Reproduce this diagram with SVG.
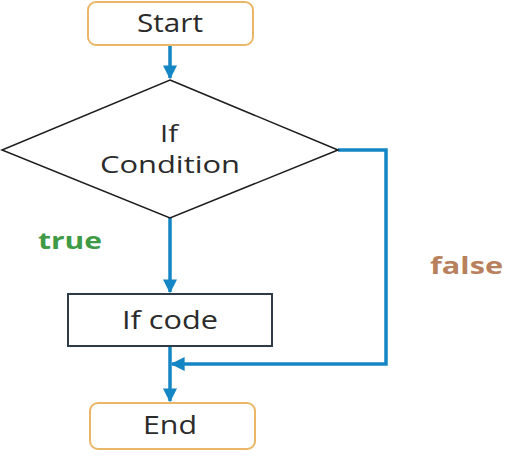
<svg xmlns="http://www.w3.org/2000/svg" width="516" height="456" viewBox="0 0 516 456">
<defs>
<marker id="ah" markerWidth="4" markerHeight="4" refX="3.6" refY="2" orient="auto" markerUnits="strokeWidth">
<path d="M0,0 L4,2 L0,4 Z" fill="#1586c4"/>
</marker>
<style>
.term{fill:#fff;stroke:#e9b767;stroke-width:2}
.proc{fill:#fff;stroke:#2f3b46;stroke-width:2}
.dec{fill:#fff;stroke:#1e1e1e;stroke-width:1.6}
.lbl{font-family:"Open Sans","Noto Sans",sans-serif;font-size:25px;fill:#2b2b2b;text-anchor:middle}
.edge{fill:none;stroke:#1586c4;stroke-width:3.5}
.el{font-family:"Open Sans","Noto Sans",sans-serif;font-size:24px;font-weight:bold}
</style>
</defs>
<rect width="516" height="456" fill="#fff"/>
<g id="connectors">
<path class="edge" d="M170,46 V78" marker-end="url(#ah)"/>
<path class="edge" d="M170,218 V292" marker-end="url(#ah)"/>
<path class="edge" d="M170,346 V401" marker-end="url(#ah)"/>
<path class="edge" d="M338,150 H386 V364 H172" marker-end="url(#ah)"/>
<text class="el" x="38" y="249" fill="#3f9a45" textLength="64" lengthAdjust="spacingAndGlyphs">true</text>
<text class="el" x="430" y="274" fill="#b8805c" textLength="73" lengthAdjust="spacingAndGlyphs">false</text>
</g>
<g id="start">
<rect class="term" x="88" y="2" width="165" height="43" rx="8"/>
<text class="lbl" x="170" y="32" textLength="66" lengthAdjust="spacingAndGlyphs">Start</text>
</g>
<g id="condition">
<polygon class="dec" points="170,80 338,150 170,218 2,150"/>
<text class="lbl" x="169" y="142" style="font-size:24px" textLength="18" lengthAdjust="spacingAndGlyphs">If</text>
<text class="lbl" x="170" y="173" style="font-size:24px" textLength="140" lengthAdjust="spacingAndGlyphs">Condition</text>
</g>
<g id="ifcode">
<rect class="proc" x="68" y="294" width="204" height="52"/>
<text class="lbl" x="170" y="329" textLength="96" lengthAdjust="spacingAndGlyphs">If code</text>
</g>
<g id="end">
<rect class="term" x="90" y="403" width="165" height="46" rx="8"/>
<text class="lbl" x="170" y="434" textLength="54" lengthAdjust="spacingAndGlyphs">End</text>
</g>
</svg>
